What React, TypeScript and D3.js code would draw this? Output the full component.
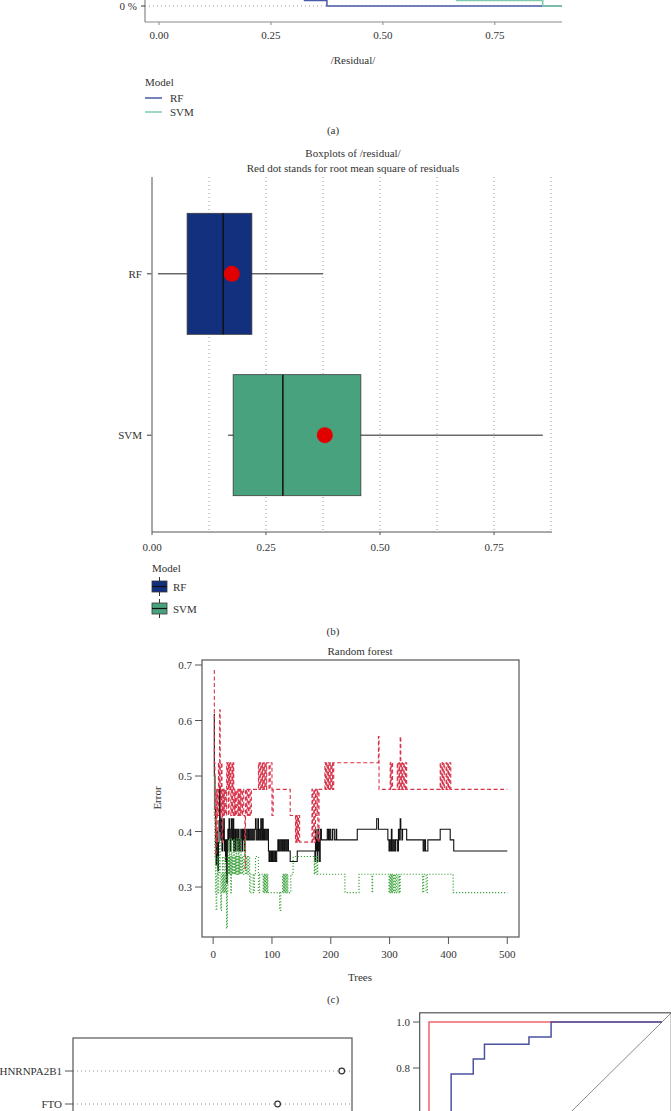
import React, { useEffect, useRef } from "react";
import * as d3 from "d3";

// (a) visible tail of the reverse cumulative distribution of |residual|
const rfTailResidual = [0.3, 0.325, 0.375, 0.9];
const rfTailShare = [0.095, 0.048, 0, 0];
const svmTailResidual = [0.62, 0.665, 0.857, 0.9];
const svmTailShare = [0.095, 0.048, 0, 0];
const residualTicks = [0, 0.25, 0.5, 0.75];

// (b) boxplots of |residual|
const models = ["RF", "SVM"];
const boxMin = [0.013, 0.167];
const boxQ1 = [0.077, 0.178];
const boxMedian = [0.156, 0.287];
const boxQ3 = [0.219, 0.458];
const boxMax = [0.375, 0.857];
const boxRmse = [0.175, 0.379];

// (c) random forest error rates, [tree, error] at each change
const oobError: [number, number][] = [
  [1, 0.611], [2, 0.5], [3, 0.44], [4, 0.38], [5, 0.34], [6, 0.4], [7, 0.36], [8, 0.33], [9, 0.38], [10, 0.42],
  [11, 0.48], [12, 0.4], [13, 0.385], [14, 0.423], [15, 0.365], [16, 0.404], [17, 0.385], [18, 0.423], [19, 0.365],
  [20, 0.385], [21, 0.346], [22, 0.385], [23, 0.307], [24, 0.365], [25, 0.404], [26, 0.385], [27, 0.423], [28, 0.404],
  [29, 0.365], [30, 0.385], [31, 0.423], [32, 0.404], [33, 0.385], [34, 0.423], [35, 0.365], [36, 0.385], [37, 0.404],
  [38, 0.365], [39, 0.385], [40, 0.404], [41, 0.385], [42, 0.365], [43, 0.404], [44, 0.385], [45, 0.365], [46, 0.385],
  [47, 0.404], [48, 0.385], [49, 0.365], [50, 0.404], [51, 0.385], [52, 0.404], [53, 0.365], [54, 0.385], [55, 0.404],
  [57, 0.385], [59, 0.404], [60, 0.385], [62, 0.404], [64, 0.385], [66, 0.404], [68, 0.385], [70, 0.404], [72, 0.423],
  [73, 0.385], [75, 0.404], [76, 0.423], [77, 0.385], [78, 0.404], [80, 0.385], [81, 0.423], [82, 0.404], [83, 0.385],
  [84, 0.423], [85, 0.385], [86, 0.404], [87, 0.385], [88, 0.404], [90, 0.385], [92, 0.404], [94, 0.365], [95, 0.346],
  [96, 0.365], [97, 0.346], [99, 0.365], [100, 0.346], [101, 0.365], [102, 0.346], [104, 0.365], [106, 0.346],
  [108, 0.365], [110, 0.385], [111, 0.365], [113, 0.385], [115, 0.365], [116, 0.385], [118, 0.365], [119, 0.385],
  [121, 0.365], [122, 0.385], [124, 0.365], [126, 0.385], [128, 0.365], [131, 0.346], [143, 0.365], [173, 0.346],
  [174, 0.404], [175, 0.365], [176, 0.385], [177, 0.346], [178, 0.404], [179, 0.365], [180, 0.385], [181, 0.346],
  [182, 0.404], [184, 0.385], [194, 0.404], [196, 0.385], [198, 0.404], [200, 0.385], [203, 0.404], [206, 0.385],
  [209, 0.404], [210, 0.385], [245, 0.404], [278, 0.423], [281, 0.404], [297, 0.385], [299, 0.365], [300, 0.385],
  [302, 0.365], [303, 0.404], [304, 0.365], [306, 0.385], [308, 0.365], [310, 0.385], [313, 0.365], [315, 0.404],
  [317, 0.385], [318, 0.423], [319, 0.404], [321, 0.385], [322, 0.404], [329, 0.385], [357, 0.365], [359, 0.385],
  [361, 0.365], [365, 0.385], [386, 0.404], [403, 0.385], [409, 0.365], [500, 0.365],
];
const class1Error: [number, number][] = [
  [1, 0.69], [2, 0.524], [3, 0.429], [4, 0.357], [5, 0.476], [6, 0.381], [7, 0.476], [8, 0.429], [9, 0.524],
  [10, 0.476], [11, 0.619], [12, 0.476], [13, 0.429], [14, 0.524], [15, 0.381], [16, 0.476], [17, 0.429], [18, 0.476],
  [19, 0.429], [20, 0.476], [22, 0.429], [23, 0.524], [24, 0.476], [25, 0.524], [26, 0.429], [27, 0.524], [28, 0.476],
  [29, 0.524], [30, 0.429], [31, 0.476], [32, 0.524], [33, 0.429], [34, 0.524], [35, 0.476], [36, 0.429], [37, 0.476],
  [38, 0.429], [40, 0.476], [42, 0.429], [43, 0.476], [44, 0.429], [45, 0.476], [46, 0.429], [47, 0.476], [49, 0.429],
  [50, 0.476], [52, 0.429], [54, 0.333], [55, 0.476], [57, 0.429], [58, 0.476], [60, 0.429], [61, 0.476], [63, 0.429],
  [65, 0.476], [77, 0.524], [78, 0.476], [80, 0.524], [81, 0.476], [83, 0.524], [84, 0.476], [85, 0.524], [87, 0.476],
  [88, 0.524], [90, 0.476], [91, 0.524], [95, 0.476], [97, 0.524], [100, 0.429], [102, 0.476], [131, 0.429],
  [140, 0.381], [141, 0.429], [142, 0.381], [143, 0.429], [144, 0.381], [145, 0.429], [147, 0.381], [168, 0.476],
  [169, 0.381], [171, 0.476], [172, 0.381], [174, 0.476], [175, 0.429], [177, 0.476], [178, 0.381], [180, 0.476],
  [190, 0.524], [191, 0.476], [193, 0.524], [194, 0.476], [196, 0.524], [197, 0.476], [199, 0.524], [200, 0.476],
  [202, 0.524], [203, 0.476], [205, 0.524], [281, 0.571], [282, 0.476], [301, 0.524], [302, 0.476], [303, 0.524],
  [305, 0.476], [313, 0.524], [314, 0.476], [316, 0.524], [317, 0.476], [318, 0.571], [319, 0.524], [320, 0.476],
  [321, 0.524], [322, 0.476], [324, 0.524], [325, 0.476], [327, 0.524], [329, 0.476], [386, 0.524], [387, 0.476],
  [389, 0.524], [390, 0.476], [392, 0.524], [393, 0.476], [396, 0.524], [397, 0.476], [399, 0.524], [400, 0.476],
  [402, 0.524], [404, 0.476], [500, 0.476],
];
const class2Error: [number, number][] = [
  [1, 0.5], [2, 0.42], [3, 0.355], [4, 0.29], [5, 0.258], [6, 0.323], [7, 0.355], [8, 0.29], [9, 0.323], [10, 0.355],
  [11, 0.387], [12, 0.29], [13, 0.258], [14, 0.323], [15, 0.29], [16, 0.355], [17, 0.29], [18, 0.323], [19, 0.29],
  [20, 0.355], [21, 0.29], [22, 0.323], [23, 0.226], [24, 0.29], [25, 0.355], [26, 0.323], [27, 0.387], [28, 0.323],
  [29, 0.355], [30, 0.29], [31, 0.387], [32, 0.323], [33, 0.355], [34, 0.323], [35, 0.387], [36, 0.323], [37, 0.355],
  [38, 0.323], [39, 0.387], [40, 0.323], [41, 0.355], [42, 0.323], [43, 0.387], [44, 0.323], [45, 0.355], [46, 0.323],
  [47, 0.387], [48, 0.323], [49, 0.355], [50, 0.323], [52, 0.355], [54, 0.387], [55, 0.323], [57, 0.355], [58, 0.323],
  [60, 0.355], [62, 0.29], [64, 0.323], [68, 0.29], [70, 0.323], [72, 0.355], [77, 0.29], [79, 0.323], [85, 0.29],
  [86, 0.323], [87, 0.29], [88, 0.323], [89, 0.29], [90, 0.323], [91, 0.29], [92, 0.323], [93, 0.29], [113, 0.258],
  [115, 0.29], [118, 0.323], [119, 0.29], [120, 0.323], [121, 0.29], [122, 0.323], [123, 0.29], [124, 0.323],
  [125, 0.29], [126, 0.323], [127, 0.29], [132, 0.323], [136, 0.355], [172, 0.323], [173, 0.355], [175, 0.323],
  [177, 0.355], [178, 0.323], [224, 0.29], [248, 0.323], [270, 0.29], [271, 0.323], [299, 0.29], [300, 0.323],
  [301, 0.29], [302, 0.323], [303, 0.29], [304, 0.323], [305, 0.29], [306, 0.323], [307, 0.29], [309, 0.323],
  [310, 0.29], [312, 0.323], [314, 0.29], [316, 0.323], [317, 0.29], [318, 0.323], [356, 0.29], [358, 0.323],
  [362, 0.29], [364, 0.323], [408, 0.29], [500, 0.29],
];
const errorTicks = [0.3, 0.4, 0.5, 0.6, 0.7];
const treeTicks = [0, 100, 200, 300, 400, 500];

// (d) variable importance (visible rows)
const impVars = ["HNRNPA2B1", "FTO"];
const impValues = [3.39, 2.7];

// (e) ROC curves (specificity, sensitivity)
const rocRedSpec = [1, 1, 0];
const rocRedSens = [0.5, 1, 1];
const rocBlueSpec = [0.905, 0.905, 0.81, 0.81, 0.762, 0.762, 0.571, 0.571, 0.476, 0.476, 0];
const rocBlueSens = [0.5, 0.774, 0.774, 0.839, 0.839, 0.903, 0.903, 0.935, 0.935, 1, 1];
const rocTicks = [0.6, 0.8, 1.0];

const FONT = "'Liberation Serif', 'Times New Roman', serif";
const INK = "#333";
const FS = 11;

export default function App() {
  const svgRef = useRef<SVGSVGElement>(null);

  useEffect(() => {
    const svg = d3.select(svgRef.current);
    svg.selectAll("*").remove();

    const text = (g: any, x: number, y: number, s: string, anchor = "middle", size = FS) =>
      g.append("text")
        .attr("x", x).attr("y", y)
        .attr("text-anchor", anchor)
        .attr("font-family", FONT)
        .attr("font-size", size)
        .attr("fill", INK)
        .text(s);

    // ---------- (a) ----------
    const gA = svg.append("g");
    const xA = d3.scaleLinear().domain([0, 0.9]).range([159, 562]);
    const yA = d3.scaleLinear().domain([0, 1]).range([6, -109]);

    gA.append("line")
      .attr("x1", 145).attr("x2", 562).attr("y1", yA(0)).attr("y2", yA(0))
      .attr("stroke", "#9a9a9a").attr("stroke-dasharray", "1,3");
    gA.append("line").attr("x1", 145).attr("x2", 145).attr("y1", 0).attr("y2", 22)
      .attr("stroke", "#888").attr("stroke-width", 1.2);
    gA.append("line").attr("x1", 145).attr("x2", 562).attr("y1", 22).attr("y2", 22)
      .attr("stroke", "#888").attr("stroke-width", 1);
    gA.append("line").attr("x1", 141).attr("x2", 145).attr("y1", yA(0)).attr("y2", yA(0))
      .attr("stroke", INK);
    text(gA, 137, yA(0) + 4, "0 %", "end");
    residualTicks.forEach((t) => {
      gA.append("line").attr("x1", xA(t)).attr("x2", xA(t)).attr("y1", 22).attr("y2", 25).attr("stroke", "#888");
      text(gA, xA(t), 39, d3.format(".2f")(t));
    });

    const lineA = d3.line<[number, number]>()
      .x((d) => xA(d[0])).y((d) => yA(d[1]))
      .curve(d3.curveStepAfter);
    gA.append("path")
      .attr("d", lineA(rfTailResidual.map((r, i) => [r, rfTailShare[i]] as [number, number])))
      .attr("fill", "none").attr("stroke", "#4a5aa6").attr("stroke-width", 1.5);
    gA.append("path")
      .attr("d", lineA(svmTailResidual.map((r, i) => [r, svmTailShare[i]] as [number, number])))
      .attr("fill", "none").attr("stroke", "#7fcbab").attr("stroke-width", 1.5);

    text(gA, 353, 64, "/Residual/");
    text(gA, 145, 86, "Model", "start");
    ["#4a5aa6", "#7fcbab"].forEach((c, i) => {
      const y = 98 + i * 14;
      gA.append("line").attr("x1", 145).attr("x2", 162).attr("y1", y).attr("y2", y)
        .attr("stroke", c).attr("stroke-width", 1.5);
      text(gA, 170, y + 4, models[i], "start");
    });
    text(gA, 333, 134, "(a)");

    // ---------- (b) ----------
    const gB = svg.append("g");
    const xB = d3.scaleLinear().domain([0, 1]).range([152, 608]);
    const yB = d3.scalePoint<string>().domain(models).range([177, 532]).padding(0.6);
    const boxH = yB.step() * 0.75;
    const fills = ["#13307f", "#48a27d"];

    text(gB, 353, 157, "Boxplots of /residual/");
    text(gB, 353, 172, "Red dot stands for root mean square of residuals");

    d3.range(1, 8).map((i) => i * 0.125).forEach((g) => {
      gB.append("line").attr("x1", xB(g)).attr("x2", xB(g)).attr("y1", 177).attr("y2", 532)
        .attr("stroke", "#9a9a9a").attr("stroke-dasharray", "1,3");
    });

    models.forEach((m, i) => {
      const cy = yB(m) as number;
      gB.append("line").attr("x1", xB(boxMin[i])).attr("x2", xB(boxMax[i])).attr("y1", cy).attr("y2", cy)
        .attr("stroke", "#222").attr("stroke-width", 1);
      gB.append("rect")
        .attr("x", xB(boxQ1[i])).attr("y", cy - boxH / 2)
        .attr("width", xB(boxQ3[i]) - xB(boxQ1[i])).attr("height", boxH)
        .attr("fill", fills[i]).attr("stroke", "#3a3a3a").attr("stroke-width", 0.8);
      gB.append("line").attr("x1", xB(boxMedian[i])).attr("x2", xB(boxMedian[i]))
        .attr("y1", cy - boxH / 2).attr("y2", cy + boxH / 2)
        .attr("stroke", "#111").attr("stroke-width", 1.5);
      gB.append("circle").attr("cx", xB(boxRmse[i])).attr("cy", cy).attr("r", 8).attr("fill", "#e10000");
      gB.append("line").attr("x1", 147).attr("x2", 152).attr("y1", cy).attr("y2", cy).attr("stroke", INK);
      text(gB, 142, cy + 4, m, "end");
    });

    gB.append("line").attr("x1", 152).attr("x2", 152).attr("y1", 177).attr("y2", 532)
      .attr("stroke", "#8a8a8a").attr("stroke-width", 1.5);
    gB.append("line").attr("x1", 152).attr("x2", 552).attr("y1", 532).attr("y2", 532)
      .attr("stroke", "#555").attr("stroke-width", 1);
    residualTicks.forEach((t) => {
      gB.append("line").attr("x1", xB(t)).attr("x2", xB(t)).attr("y1", 532).attr("y2", 535).attr("stroke", "#555");
      text(gB, xB(t), 551, d3.format(".2f")(t));
    });

    text(gB, 152, 572, "Model", "start");
    fills.forEach((c, i) => {
      const y = 581 + i * 22;
      gB.append("line").attr("x1", 159.5).attr("x2", 159.5).attr("y1", y - 4).attr("y2", y + 15).attr("stroke", "#333");
      gB.append("rect").attr("x", 152).attr("y", y).attr("width", 15).attr("height", 11)
        .attr("fill", c).attr("stroke", "#3a3a3a").attr("stroke-width", 0.8);
      gB.append("line").attr("x1", 152).attr("x2", 167).attr("y1", y + 5.5).attr("y2", y + 5.5)
        .attr("stroke", "#111").attr("stroke-width", 1.2);
      text(gB, 173, y + 9.5, models[i], "start");
    });
    text(gB, 333, 635, "(b)");

    // ---------- (c) ----------
    const gC = svg.append("g");
    const xC = d3.scaleLinear().domain([-18.96, 519.96]).range([202, 519]);
    const yC = d3.scaleLinear().domain([0.21, 0.709]).range([937, 660]);
    svg.append("clipPath").attr("id", "clipC").append("rect")
      .attr("x", 202).attr("y", 660).attr("width", 317).attr("height", 277);

    const lineC = d3.line<[number, number]>()
      .x((d) => xC(d[0])).y((d) => yC(d[1]))
      .curve(d3.curveStepAfter);
    const gLines = gC.append("g").attr("clip-path", "url(#clipC)");
    gLines.append("path").attr("d", lineC(oobError))
      .attr("fill", "none").attr("stroke", "#111").attr("stroke-width", 1.1);
    gLines.append("path").attr("d", lineC(class1Error))
      .attr("fill", "none").attr("stroke", "#d8334a").attr("stroke-width", 1.1)
      .attr("stroke-dasharray", "4,2.5");
    gLines.append("path").attr("d", lineC(class2Error))
      .attr("fill", "none").attr("stroke", "#3ea43e").attr("stroke-width", 1.2)
      .attr("stroke-dasharray", "1.2,1.8");

    gC.append("rect").attr("x", 202).attr("y", 660).attr("width", 317).attr("height", 277)
      .attr("fill", "none").attr("stroke", "#555").attr("stroke-width", 1.2);
    errorTicks.forEach((t) => {
      gC.append("line").attr("x1", 195).attr("x2", 202).attr("y1", yC(t)).attr("y2", yC(t)).attr("stroke", "#555");
      text(gC, 192, yC(t) + 4, d3.format(".1f")(t), "end");
    });
    treeTicks.forEach((t) => {
      gC.append("line").attr("x1", xC(t)).attr("x2", xC(t)).attr("y1", 937).attr("y2", 944).attr("stroke", "#555");
      text(gC, xC(t), 958, String(t));
    });
    text(gC, 360, 655, "Random forest");
    text(gC, 360, 981, "Trees");
    gC.append("text")
      .attr("transform", "translate(161,798) rotate(-90)")
      .attr("text-anchor", "middle").attr("font-family", FONT).attr("font-size", FS).attr("fill", INK)
      .text("Error");
    text(gC, 333, 1003, "(c)");

    // ---------- (d) ----------
    const gD = svg.append("g");
    const xD = d3.scaleLinear().domain([0.5, 3.5]).range([73, 352]);
    const yD = d3.scalePoint<string>().domain(impVars).range([1071, 1104]);
    impVars.forEach((v, i) => {
      const cy = yD(v) as number;
      gD.append("line").attr("x1", 73).attr("x2", 352).attr("y1", cy).attr("y2", cy)
        .attr("stroke", "#8a8a8a").attr("stroke-dasharray", "1,3");
      gD.append("circle").attr("cx", xD(impValues[i])).attr("cy", cy).attr("r", 2.8)
        .attr("fill", "white").attr("stroke", "#333").attr("stroke-width", 1.2);
      gD.append("line").attr("x1", 65).attr("x2", 73).attr("y1", cy).attr("y2", cy).attr("stroke", "#555");
      text(gD, 62, cy + 4, v, "end");
    });
    gD.append("rect").attr("x", 73).attr("y", 1038).attr("width", 279).attr("height", 200)
      .attr("fill", "none").attr("stroke", "#555").attr("stroke-width", 1.2);

    // ---------- (e) ----------
    const gE = svg.append("g");
    const xE = d3.scaleLinear().domain([1, 0]).range([429, 662]);
    const yE = d3.scaleLinear().domain([0, 1]).range([1252, 1022]);
    const bx0 = xE(1.04), bx1 = xE(-0.04), by0 = yE(1.04), by1 = yE(-0.04);
    svg.append("clipPath").attr("id", "clipE").append("rect")
      .attr("x", bx0).attr("y", by0).attr("width", bx1 - bx0).attr("height", by1 - by0);
    const gRoc = gE.append("g").attr("clip-path", "url(#clipE)");
    gRoc.append("line")
      .attr("x1", xE(1.04)).attr("y1", yE(-0.04)).attr("x2", xE(-0.04)).attr("y2", yE(1.04))
      .attr("stroke", "#8a8a8a").attr("stroke-width", 1);
    const lineE = d3.line<[number, number]>().x((d) => xE(d[0])).y((d) => yE(d[1]));
    gRoc.append("path")
      .attr("d", lineE(rocRedSpec.map((s, i) => [s, rocRedSens[i]] as [number, number])))
      .attr("fill", "none").attr("stroke", "#f0616a").attr("stroke-width", 1.5);
    gRoc.append("path")
      .attr("d", lineE(rocBlueSpec.map((s, i) => [s, rocBlueSens[i]] as [number, number])))
      .attr("fill", "none").attr("stroke", "#4a52a0").attr("stroke-width", 1.5);
    gE.append("rect").attr("x", bx0).attr("y", by0).attr("width", bx1 - bx0).attr("height", by1 - by0)
      .attr("fill", "none").attr("stroke", "#555").attr("stroke-width", 1.2);
    rocTicks.forEach((t) => {
      gE.append("line").attr("x1", 413).attr("x2", bx0).attr("y1", yE(t)).attr("y2", yE(t)).attr("stroke", "#555");
      text(gE, 410, yE(t) + 4, d3.format(".1f")(t), "end");
    });
  }, []);

  return (
    <svg
      ref={svgRef}
      width={671}
      height={1111}
      style={{ position: "absolute", left: 0, top: 0, background: "white", display: "block" }}
    ></svg>
  );
}
